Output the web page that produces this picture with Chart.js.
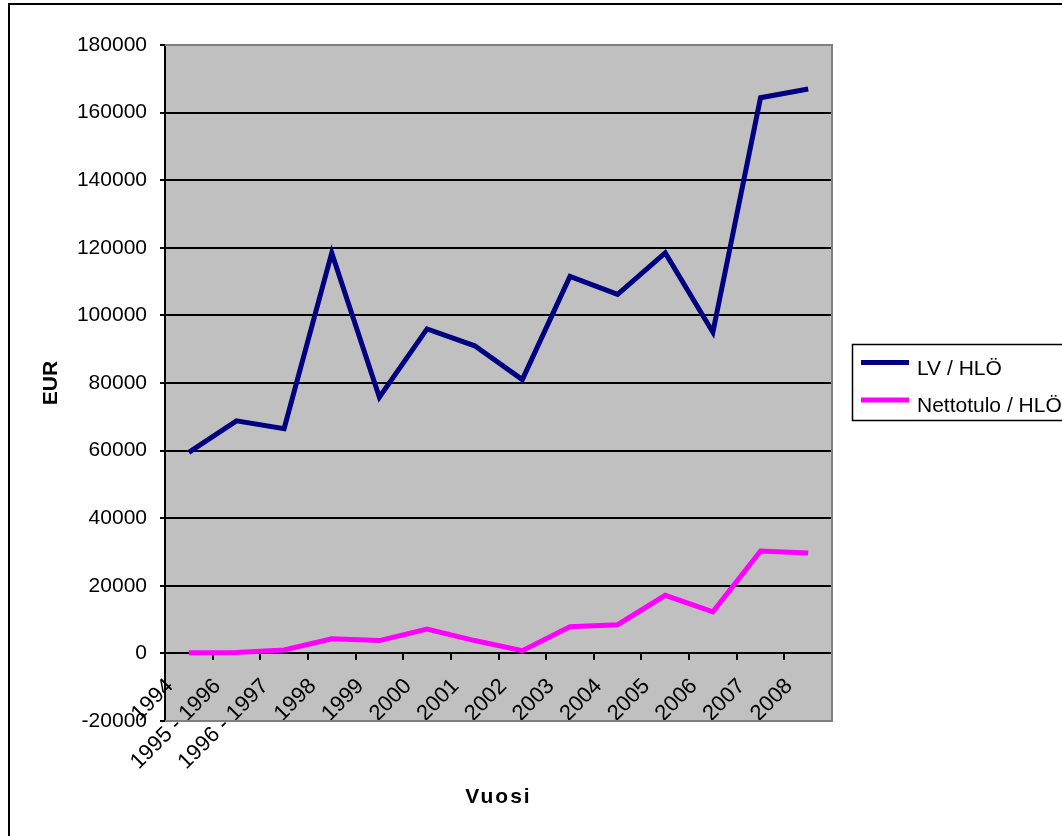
<!DOCTYPE html>
<html>
<head>
<meta charset="utf-8">
<title>LV / HLÖ</title>
<script src="https://cdn.jsdelivr.net/npm/chart.js@4.4.0/dist/chart.umd.min.js"></script>
<style>
  html, body { margin: 0; padding: 0; background: #fff; }
  #wrap { width: 1062px; height: 836px; position: relative; }
</style>
</head>
<body>
<div id="wrap"><canvas id="chart" width="1062" height="836"></canvas></div>
<script>
// Categories and values
const years = ['1994', '1995 - 1996', '1996 - 1997', '1998', '1999', '2000', '2001',
  '2002', '2003', '2004', '2005', '2006', '2007', '2008'];
const lvPerPerson = [59500, 68800, 66500, 118500, 75800, 96000, 91000,
  81000, 111500, 106200, 118500, 95000, 164400, 167000];
const netPerPerson = [200, 300, 1000, 4300, 3800, 7200, 3800,
  800, 7900, 8500, 17200, 12300, 30300, 29700];
const yMin = -20000;
const yMax = 180000;
const yStep = 20000;

Chart.defaults.font.family = "'Liberation Sans', Arial, sans-serif";
Chart.defaults.color = '#000';

// Grey plot area, outer frame, x title and the boxed legend Excel-style
const excelLook = {
  id: 'excelLook',
  beforeDraw(chart) {
    const { ctx, chartArea: a } = chart;
    ctx.save();
    ctx.fillStyle = '#fff';
    ctx.fillRect(0, 0, chart.width, chart.height);
    ctx.fillStyle = '#c0c0c0';
    ctx.fillRect(a.left, a.top, a.right - a.left, a.bottom - a.top);
    // outer chart frame (runs off the right and bottom edge)
    ctx.strokeStyle = '#000';
    ctx.lineWidth = 2;
    ctx.strokeRect(9, 4, 2000, 2000);
    ctx.restore();
  },
  beforeDatasetsDraw(chart) {
    const { ctx, chartArea: a } = chart;
    ctx.save();
    ctx.strokeStyle = '#808080';
    ctx.lineWidth = 2;
    ctx.beginPath();
    ctx.moveTo(a.left, a.top);
    ctx.lineTo(a.right, a.top);
    ctx.lineTo(a.right, a.bottom);
    ctx.lineTo(a.left, a.bottom);
    ctx.stroke();
    ctx.restore();
  },
  afterDraw(chart) {
    const { ctx, chartArea: a } = chart;
    ctx.save();
    // x axis title
    ctx.fillStyle = '#000';
    ctx.font = "bold 21px 'Liberation Sans', Arial, sans-serif";
    ctx.letterSpacing = '2px';
    ctx.textAlign = 'center';
    ctx.textBaseline = 'middle';
    ctx.fillText('Vuosi', (a.left + a.right) / 2, 797);
    ctx.letterSpacing = '0px';

    // legend
    ctx.strokeStyle = '#000';
    ctx.lineWidth = 1.5;
    ctx.strokeRect(852.5, 344.5, 260, 76);
    ctx.font = "21px 'Liberation Sans', Arial, sans-serif";
    ctx.textAlign = 'left';
    ctx.textBaseline = 'alphabetic';
    chart.data.datasets.forEach((ds, i) => {
      const y = 362.5 + i * 37.5;
      ctx.strokeStyle = ds.borderColor;
      ctx.lineWidth = 5;
      ctx.beginPath();
      ctx.moveTo(861, y);
      ctx.lineTo(909, y);
      ctx.stroke();
      ctx.fillStyle = '#000';
      ctx.fillText(ds.label, 917, y + 12);
    });
    ctx.restore();
  }
};

new Chart(document.getElementById('chart'), {
  type: 'line',
  data: {
    labels: years,
    datasets: [
      {
        label: 'LV / HLÖ',
        data: lvPerPerson,
        borderColor: '#000080',
        borderWidth: 5,
        pointRadius: 0,
        tension: 0
      },
      {
        label: 'Nettotulo / HLÖ',
        data: netPerPerson,
        borderColor: '#ff00ff',
        borderWidth: 5,
        pointRadius: 0,
        tension: 0
      }
    ]
  },
  options: {
    responsive: false,
    animation: false,
    layout: {
      padding: { left: 0, top: 45, right: 230, bottom: 115 }
    },
    plugins: {
      legend: { display: false },
      tooltip: { enabled: false }
    },
    scales: {
      x: {
        type: 'category',
        position: { y: 0 },
        offset: true,
        grid: {
          offset: true,
          drawOnChartArea: false,
          tickLength: 6,
          color: '#000',
          lineWidth: 2
        },
        border: { color: '#000', width: 2 },
        ticks: {
          minRotation: 45,
          maxRotation: 45,
          autoSkip: false,
          padding: 14,
          labelOffset: -19,
          color: '#000',
          font: { size: 22 }
        }
      },
      y: {
        min: yMin,
        max: yMax,
        ticks: {
          stepSize: yStep,
          padding: 13,
          color: '#000',
          font: { size: 21 },
          callback: value => String(value)
        },
        grid: {
          color: ctx => (ctx.tick && ctx.tick.value > yMin && ctx.tick.value < yMax) ? '#000' : 'rgba(0,0,0,0)',
          tickColor: '#000',
          lineWidth: 2,
          tickLength: 5
        },
        border: { color: '#000', width: 2 },
        title: {
          display: true,
          text: 'EUR',
          color: '#000',
          font: { size: 21, weight: 'bold' },
          padding: { top: 39, bottom: 0 }
        },
        afterFit(scale) {
          scale.width = 165;
        }
      }
    }
  },
  plugins: [excelLook]
});
</script>
</body>
</html>
